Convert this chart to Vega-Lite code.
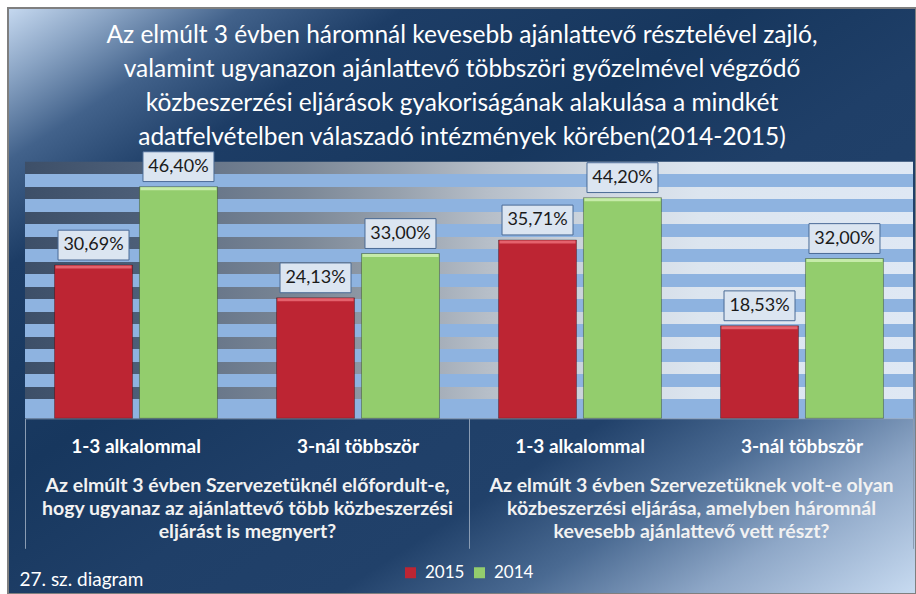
{
  "$schema": "https://vega.github.io/schema/vega-lite/v6.json",
  "width": 908,
  "height": 586,
  "autosize": {"type": "none"},
  "padding": {"left": 8, "top": 8, "right": 0, "bottom": 0},
  "background": "#ffffff",
  "title": {
    "text": [
      "Az elmúlt 3 évben háromnál kevesebb ajánlattevő résztelével zajló,",
      "valamint ugyanazon ajánlattevő többszöri győzelmével végződő",
      "közbeszerzési eljárások gyakoriságának alakulása a mindkét",
      "adatfelvételben válaszadó intézmények körében(2014-2015)"
    ],
    "anchor": "middle",
    "frame": "group",
    "offset": -161,
    "baseline": "alphabetic",
    "lineHeight": 34,
    "font": "Lato",
    "fontSize": 24.5,
    "fontWeight": "normal",
    "color": "#ffffff"
  },
  "config": {
    "view": {
      "fill": {
        "gradient": "linear",
        "x1": 0, "y1": 0, "x2": 1, "y2": 1,
        "stops": [
          {"offset": 0, "color": "#c6d9f0"},
          {"offset": 0.06, "color": "#8aa4c4"},
          {"offset": 0.13, "color": "#42628b"},
          {"offset": 0.22, "color": "#1d3d66"},
          {"offset": 0.4, "color": "#17375e"},
          {"offset": 0.55, "color": "#1f3f68"},
          {"offset": 0.68, "color": "#21416a"},
          {"offset": 0.78, "color": "#4a6a92"},
          {"offset": 0.88, "color": "#8ea7c7"},
          {"offset": 1, "color": "#c8dbf1"}
        ]
      },
      "stroke": "#7f7f7f",
      "strokeWidth": 2
    },
    "locale": {"number": {"decimal": ",", "thousands": " ", "grouping": [3], "currency": ["", " Ft"]}},
    "font": "Lato"
  },
  "data": {
    "values": [
      {"group": "Az elmúlt 3 évben Szervezetüknél előfordult-e,|hogy ugyanaz az ajánlattevő több közbeszerzési|eljárást is megnyert?", "cat": "A|1-3 alkalommal", "year": "2015", "value": 0.3069},
      {"group": "Az elmúlt 3 évben Szervezetüknél előfordult-e,|hogy ugyanaz az ajánlattevő több közbeszerzési|eljárást is megnyert?", "cat": "A|1-3 alkalommal", "year": "2014", "value": 0.4640},
      {"group": "Az elmúlt 3 évben Szervezetüknél előfordult-e,|hogy ugyanaz az ajánlattevő több közbeszerzési|eljárást is megnyert?", "cat": "A|3-nál többször", "year": "2015", "value": 0.2413},
      {"group": "Az elmúlt 3 évben Szervezetüknél előfordult-e,|hogy ugyanaz az ajánlattevő több közbeszerzési|eljárást is megnyert?", "cat": "A|3-nál többször", "year": "2014", "value": 0.3300},
      {"group": "Az elmúlt 3 évben Szervezetüknek volt-e olyan|közbeszerzési eljárása, amelyben háromnál|kevesebb ajánlattevő vett részt?", "cat": "B|1-3 alkalommal", "year": "2015", "value": 0.3571},
      {"group": "Az elmúlt 3 évben Szervezetüknek volt-e olyan|közbeszerzési eljárása, amelyben háromnál|kevesebb ajánlattevő vett részt?", "cat": "B|1-3 alkalommal", "year": "2014", "value": 0.4420},
      {"group": "Az elmúlt 3 évben Szervezetüknek volt-e olyan|közbeszerzési eljárása, amelyben háromnál|kevesebb ajánlattevő vett részt?", "cat": "B|3-nál többször", "year": "2015", "value": 0.1853},
      {"group": "Az elmúlt 3 évben Szervezetüknek volt-e olyan|közbeszerzési eljárása, amelyben háromnál|kevesebb ajánlattevő vett részt?", "cat": "B|3-nál többször", "year": "2014", "value": 0.3200}
    ]
  },
  "resolve": {"scale": {"x": "independent"}, "axis": {"x": "independent"}},
  "layer": [
    {
      "data": {"values": [{}]},
      "layer": [
        {
          "mark": {
            "type": "rect",
            "fill": {
              "gradient": "linear",
              "x1": 0, "y1": 0, "x2": 1, "y2": 0,
              "stops": [
                {"offset": 0, "color": "#3d4f68"},
                {"offset": 0.14, "color": "#4e6079"},
                {"offset": 0.22, "color": "#6a788b"},
                {"offset": 0.31, "color": "#7b8796"},
                {"offset": 0.42, "color": "#97a1ad"},
                {"offset": 0.52, "color": "#b6bec8"},
                {"offset": 0.65, "color": "#d0d8e1"},
                {"offset": 0.76, "color": "#dce5ef"},
                {"offset": 1, "color": "#dfe8f4"}
              ]
            }
          },
          "encoding": {
            "x": {
              "datum": 0,
              "type": "quantitative",
              "scale": {"domain": [0, 1], "range": [17, 905], "nice": false, "zero": false},
              "axis": {
                "orient": "bottom",
                "labels": false,
                "ticks": false,
                "domain": false,
                "grid": false,
                "title": "27. sz. diagram",
                "titleX": 11,
                "titleY": -9,
                "titleAlign": "left",
                "titleBaseline": "alphabetic",
                "titleFont": "Lato",
                "titleFontSize": 19,
                "titleFontWeight": "normal",
                "titleColor": "#ffffff"
              }
            },
            "x2": {"datum": 1},
            "y": {"datum": 0, "type": "quantitative"},
            "y2": {"datum": 0.514}
          }
        },
        {
          "mark": {
            "type": "rect",
            "fill": {
              "gradient": "linear",
              "x1": 0, "y1": 0, "x2": 0, "y2": 1,
              "stops": [
                {"offset": 0, "color": "rgba(142,179,224,0)"},
                {"offset": 0.04805, "color": "rgba(142,179,224,0)"},
                {"offset": 0.04805, "color": "#8eb3e0"},
                {"offset": 0.09743, "color": "#8eb3e0"},
                {"offset": 0.09743, "color": "rgba(142,179,224,0)"},
                {"offset": 0.14548, "color": "rgba(142,179,224,0)"},
                {"offset": 0.14548, "color": "#8eb3e0"},
                {"offset": 0.19486, "color": "#8eb3e0"},
                {"offset": 0.19486, "color": "rgba(142,179,224,0)"},
                {"offset": 0.24291, "color": "rgba(142,179,224,0)"},
                {"offset": 0.24291, "color": "#8eb3e0"},
                {"offset": 0.29228, "color": "#8eb3e0"},
                {"offset": 0.29228, "color": "rgba(142,179,224,0)"},
                {"offset": 0.34033, "color": "rgba(142,179,224,0)"},
                {"offset": 0.34033, "color": "#8eb3e0"},
                {"offset": 0.38971, "color": "#8eb3e0"},
                {"offset": 0.38971, "color": "rgba(142,179,224,0)"},
                {"offset": 0.43776, "color": "rgba(142,179,224,0)"},
                {"offset": 0.43776, "color": "#8eb3e0"},
                {"offset": 0.48714, "color": "#8eb3e0"},
                {"offset": 0.48714, "color": "rgba(142,179,224,0)"},
                {"offset": 0.53519, "color": "rgba(142,179,224,0)"},
                {"offset": 0.53519, "color": "#8eb3e0"},
                {"offset": 0.58457, "color": "#8eb3e0"},
                {"offset": 0.58457, "color": "rgba(142,179,224,0)"},
                {"offset": 0.63262, "color": "rgba(142,179,224,0)"},
                {"offset": 0.63262, "color": "#8eb3e0"},
                {"offset": 0.682, "color": "#8eb3e0"},
                {"offset": 0.682, "color": "rgba(142,179,224,0)"},
                {"offset": 0.73005, "color": "rgba(142,179,224,0)"},
                {"offset": 0.73005, "color": "#8eb3e0"},
                {"offset": 0.77942, "color": "#8eb3e0"},
                {"offset": 0.77942, "color": "rgba(142,179,224,0)"},
                {"offset": 0.82747, "color": "rgba(142,179,224,0)"},
                {"offset": 0.82747, "color": "#8eb3e0"},
                {"offset": 0.87685, "color": "#8eb3e0"},
                {"offset": 0.87685, "color": "rgba(142,179,224,0)"},
                {"offset": 0.9249, "color": "rgba(142,179,224,0)"},
                {"offset": 0.9249, "color": "#8eb3e0"},
                {"offset": 1, "color": "#8eb3e0"}
              ]
            }
          },
          "encoding": {
            "x": {"datum": 0, "type": "quantitative"},
            "x2": {"datum": 1},
            "y": {"datum": 0, "type": "quantitative"},
            "y2": {"datum": 0.514}
          }
        }
      ]
    },
    {
      "layer": [
        {
          "mark": {"type": "bar", "stroke": "#000000", "strokeOpacity": 0.3, "strokeWidth": 1},
          "encoding": {
            "x": {
              "field": "cat",
              "type": "nominal",
              "scale": {
                "domain": ["A|1-3 alkalommal", "A|3-nál többször", "B|1-3 alkalommal", "B|3-nál többször"],
                "range": [17, 905],
                "paddingInner": 0.266,
                "paddingOuter": 0.133
              },
              "axis": {
                "orient": "bottom",
                "offset": -175.7,
                "domain": false,
                "ticks": false,
                "grid": false,
                "labelExpr": "split(datum.label, '|')[1]",
                "labelFont": "Lato",
                "labelFontSize": 19,
                "labelFontWeight": "bold",
                "labelColor": "#ffffff",
                "labelPadding": 33.7,
                "labelBaseline": "alphabetic",
                "labelAngle": 0,
                "labelLimit": 400,
                "title": null
              }
            },
            "xOffset": {
              "field": "year",
              "type": "nominal",
              "scale": {"domain": ["2015", "2014"], "paddingInner": 0.082, "paddingOuter": 0}
            },
            "y": {
              "field": "value",
              "type": "quantitative",
              "scale": {"domain": [0, 0.514], "range": [410.3, 153.7], "nice": false, "zero": true},
              "axis": null
            },
            "color": {
              "field": "year",
              "type": "nominal",
              "scale": {"domain": ["2015", "2014"], "range": ["#bd2533", "#93cd6d"]},
              "legend": {
                "orient": "none",
                "legendX": 394,
                "legendY": 556,
                "direction": "horizontal",
                "title": null,
                "symbolType": "square",
                "symbolSize": 121,
                "symbolStrokeWidth": 0,
                "symbolOpacity": 1,
                "labelFont": "Lato",
                "labelFontSize": 17,
                "labelColor": "#ffffff",
                "labelOffset": 6,
                "columnPadding": 6,
                "padding": 0
              }
            }
          }
        },
        {
          "mark": {"type": "tick", "orient": "horizontal", "thickness": 3, "size": 76, "opacity": 1, "yOffset": 2},
          "encoding": {
            "x": {"field": "cat", "type": "nominal"},
            "xOffset": {"field": "year", "type": "nominal"},
            "y": {"field": "value", "type": "quantitative"},
            "color": {"condition": {"test": "datum.year === '2015'", "value": "#e4626d"}, "value": "#c6eba9"}
          }
        },
        {
          "mark": {
            "type": "point",
            "shape": "M-1,-0.42H1V0.42H-1Z",
            "size": 5041,
            "filled": true,
            "fill": "#dbe5f1",
            "stroke": "#4a6a96",
            "strokeWidth": 1,
            "opacity": 1,
            "yOffset": -20
          },
          "encoding": {
            "x": {"field": "cat", "type": "nominal"},
            "xOffset": {"field": "year", "type": "nominal"},
            "y": {"field": "value", "type": "quantitative"}
          }
        },
        {
          "mark": {"type": "text", "font": "Lato", "fontSize": 18, "color": "#1a1a1a", "baseline": "middle", "yOffset": -20},
          "encoding": {
            "x": {"field": "cat", "type": "nominal"},
            "xOffset": {"field": "year", "type": "nominal"},
            "y": {"field": "value", "type": "quantitative"},
            "text": {"field": "value", "type": "quantitative", "format": ".2%"}
          }
        }
      ]
    },
    {
      "mark": {"type": "point", "opacity": 0},
      "encoding": {
        "x": {
          "field": "group",
          "type": "nominal",
          "sort": null,
          "scale": {"range": [17, 905], "paddingInner": 0, "paddingOuter": 0},
          "axis": {
            "orient": "bottom",
            "offset": -175.7,
            "domain": true,
            "domainColor": "#8a9cb3",
            "domainWidth": 1,
            "ticks": true,
            "tickBand": "extent",
            "tickSize": 130,
            "tickColor": "#8a9cb3",
            "tickWidth": 1,
            "grid": false,
            "labelExpr": "split(datum.label, '|')",
            "labelFont": "Lato",
            "labelFontSize": 19.5,
            "labelFontWeight": "bold",
            "labelColor": "#f2f2f2",
            "labelLineHeight": 23,
            "labelPadding": -56.6,
            "labelBaseline": "alphabetic",
            "labelAngle": 0,
            "labelLimit": 600,
            "labelOverlap": false,
            "title": null
          }
        }
      }
    }
  ]
}
